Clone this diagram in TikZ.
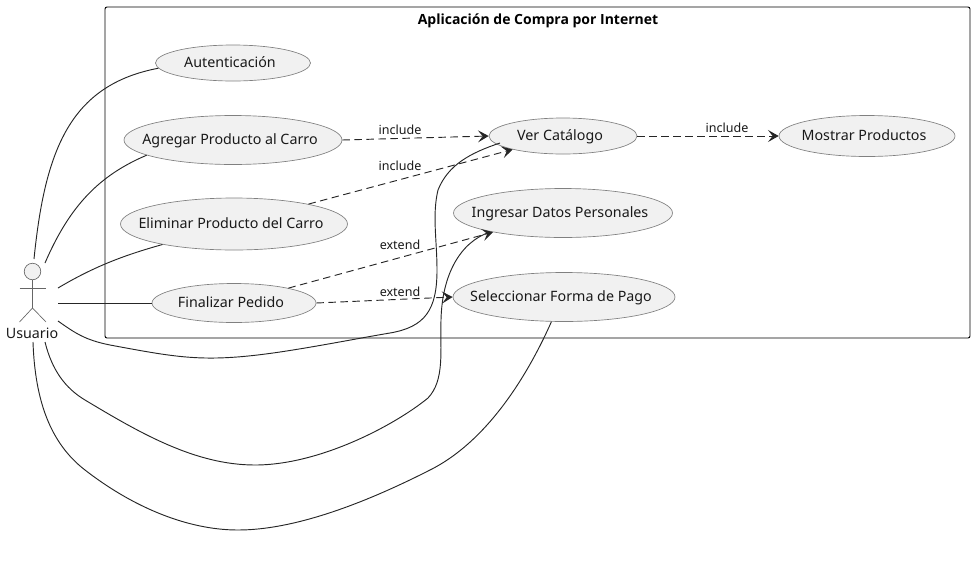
\documentclass[tikz,border=0pt]{standalone}
\usepackage{fontspec}
\setmainfont{Noto Sans}
\newfontfamily\titlefont{Open Sans}
\usetikzlibrary{shapes.geometric,arrows.meta}
\definecolor{ucfill}{HTML}{F1F1F1}
\newcommand{\uctext}[1]{\makebox[0pt][c]{\rule[-1.7pt]{0pt}{10.6pt}#1\hspace*{4.5pt}}}
\tikzset{
  usecase/.style={ellipse,draw=black!50!white,line width=0.5pt,fill=ucfill,inner sep=0pt,font=\fontsize{10.7pt}{12pt}\selectfont,text=black!90},
  assoc/.style={draw=black!85,line width=0.7pt},
  dep/.style={assoc,dash pattern=on 5.6pt off 3.4pt,-{Stealth[length=8pt,width=9pt,inset=3.5pt]}},
  lbl/.style={font=\fontsize{9.4pt}{11pt}\selectfont,inner sep=0pt,text=black!90},
  stick/.style={draw=black!60,line width=0.5pt}
}
\begin{document}
\begin{tikzpicture}[x=0.75pt,y=-0.75pt]
\useasboundingbox (0,0) rectangle (975,565);
\node[draw=black,line width=0.7pt,rounded corners=1.5pt,minimum width=865*0.75pt,minimum height=331*0.75pt,inner sep=0pt] (frame) at (537.5,172.5) {};
\node[font=\titlefont\bfseries\fontsize{10.5pt}{12pt}\selectfont,inner sep=0pt] (title) at (538,20.5) {Aplicación de Compra por Internet};
% actor
\node[circle,draw=black!60,fill=ucfill,line width=0.5pt,minimum size=12.4pt,inner sep=0pt] (head) at (32.5,271.5) {};
\coordinate (hip) at (32.5,308);
\coordinate (armL) at (19.5,288);
\coordinate (armR) at (46,288);
\coordinate (footL) at (19.5,322);
\coordinate (footR) at (46,322);
\draw[stick] (head.south) -- (hip);
\draw[stick] (armL) -- (armR);
\draw[stick] (footL) -- (hip) -- (footR);
\node[font=\fontsize{10.7pt}{12pt}\selectfont,inner sep=0pt,text=black!90] (actor) at (32,333) {Usuario};
% use cases
\node[usecase,minimum width=155*0.75pt,minimum height=36*0.75pt] (auth) at (233,63) {\uctext{Autenticación}};
\node[usecase,minimum width=218*0.75pt,minimum height=49*0.75pt] (add) at (233,140) {\uctext{Agregar Producto al Carro}};
\node[usecase,minimum width=227*0.75pt,minimum height=52*0.75pt] (del) at (234,224) {\uctext{Eliminar Producto del Carro}};
\node[usecase,minimum width=164*0.75pt,minimum height=39*0.75pt] (fin) at (234,303) {\uctext{Finalizar Pedido}};
\node[usecase,minimum width=148*0.75pt,minimum height=36*0.75pt] (cat) at (563,136) {\uctext{Ver Catálogo}};
\node[usecase,minimum width=219*0.75pt,minimum height=49*0.75pt] (dat) at (563,213) {\uctext{Ingresar Datos Personales}};
\node[usecase,minimum width=222*0.75pt,minimum height=49*0.75pt] (pay) at (564,297) {\uctext{Seleccionar Forma de Pago}};
\node[usecase,minimum width=176*0.75pt,minimum height=41*0.75pt] (show) at (867,136) {\uctext{Mostrar Productos}};
% free ends
\coordinate (a1) at (34,259);
\coordinate (a2) at (45,263);
\coordinate (a3) at (58,288);
\coordinate (a4) at (58,303);
\coordinate (a5) at (58,321);
\coordinate (a6) at (45,342);
\coordinate (a7) at (33,342);
\coordinate (e6) at (490,232);
\coordinate (e5) at (500,143);
% associations
\draw[assoc] (a1) .. controls (45,150) and (70,85) .. (auth.184);
\draw[assoc] (a2) .. controls (70,205) and (100,175) .. (add.190);
\draw[assoc] (a3) .. controls (95,266) and (125,255) .. (del.196);
\draw[assoc] (a4) -- (fin.west);
\draw[assoc] (a5) .. controls (75,333) and (85,340) .. (110,345) .. controls (180,358) and (205,363) .. (280,352) .. controls (320,346) and (360,338) .. (390,333) .. controls (425,327) and (437,310) .. (437,270) .. controls (437,240) and (432,215) .. (438,190) .. controls (448,165) and (470,153) .. (e5);
\draw[assoc] (a6) .. controls (52,370) and (65,388) .. (85,400) .. controls (140,433) and (195,465) .. (255,465) .. controls (320,465) and (395,425) .. (428,398) .. controls (445,380) and (440,350) .. (441,320) .. controls (442,275) and (460,242) .. (e6);
\draw[assoc] (a7) .. controls (35,400) and (50,443) .. (85,470) .. controls (130,505) and (185,530) .. (238,530) .. controls (300,530) and (375,498) .. (430,470) .. controls (490,440) and (530,370) .. (pay.-117);
% dependencies
\draw[dep] (add.east) -- (cat.west);
\node[lbl] (l1) at (400,130) {include};
\draw[dep] (del) -- (cat);
\node[lbl] (l2) at (400,166) {include};
\draw[dep] (fin) -- (dat);
\node[lbl] (l3) at (400,245) {extend};
\draw[dep] (fin.east) -- (pay.west);
\node[lbl] (l4) at (400,292) {extend};
\draw[dep] (cat.east) -- (show.west);
\node[lbl] (l5) at (727,128) {include};
\end{tikzpicture}
\end{document}
